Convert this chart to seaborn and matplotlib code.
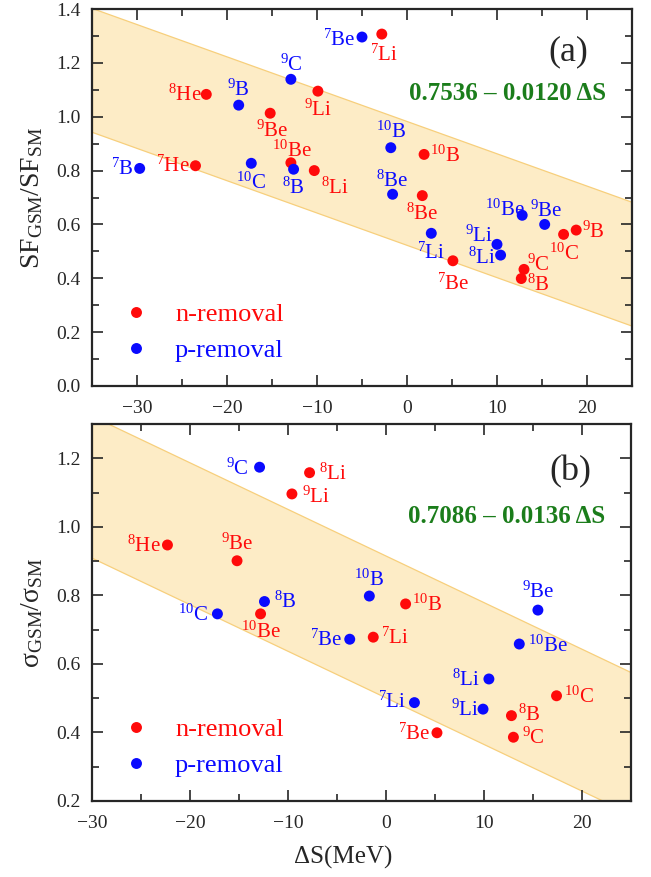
import matplotlib
matplotlib.use("Agg")
import matplotlib.pyplot as plt
import seaborn as sns
import numpy as np
import pandas as pd

# panel (a): SF_GSM / SF_SM
sf_n_names = ["7Li", "8He", "9Li", "9Be", "10Be", "7He", "8Li", "10B", "8Be", "7Be", "10C", "9B", "9C", "8B"]
sf_n_x = [-2.8, -22.3, -9.9, -15.2, -12.9, -23.5, -10.3, 1.9, 1.7, 5.1, 17.4, 18.8, 13.0, 12.7]
sf_n_y = [1.307, 1.083, 1.095, 1.013, 0.829, 0.818, 0.800, 0.860, 0.707, 0.465, 0.563, 0.579, 0.433, 0.399]

sf_p_names = ["7Be", "9C", "9B", "7B", "10C", "8B", "10B", "8Be", "7Li", "10Be", "9Be", "9Li", "8Li"]
sf_p_x = [-5.0, -12.9, -18.7, -29.7, -17.3, -12.6, -1.8, -1.6, 2.7, 12.8, 15.3, 10.0, 10.4]
sf_p_y = [1.296, 1.139, 1.043, 0.808, 0.827, 0.805, 0.885, 0.712, 0.567, 0.634, 0.600, 0.526, 0.486]

# panel (b): sigma_GSM / sigma_SM
cs_n_names = ["8Li", "9Li", "8He", "9Be", "10Be", "10B", "7Li", "7Be", "10C", "8B", "9C"]
cs_n_x = [-7.8, -9.6, -22.3, -15.2, -12.8, 2.0, -1.3, 5.2, 17.4, 12.8, 13.0]
cs_n_y = [1.158, 1.096, 0.947, 0.901, 0.746, 0.775, 0.678, 0.399, 0.507, 0.449, 0.386]

cs_p_names = ["9C", "8B", "10C", "7Be", "10B", "9Be", "10Be", "8Li", "7Li", "9Li"]
cs_p_x = [-12.9, -12.4, -17.2, -3.7, -1.7, 15.5, 13.6, 10.5, 2.9, 9.9]
cs_p_y = [1.174, 0.782, 0.746, 0.672, 0.798, 0.757, 0.658, 0.556, 0.487, 0.468]

# linear fits (intercept, slope) and band half widths
fit_a = (0.7536, -0.0120)
fit_b = (0.7086, -0.0136)
band_a = 0.23
band_b = 0.207

RED = "#ff0a0a"
BLUE = "#0a0aff"
GREEN = "#1b7d1b"

# label offsets in pixels (dx right, dy down)
off_a_n = {"7Li": (2, 21), "8He": (-21, 1), "9Li": (0, 19), "9Be": (2, 18), "10Be": (1, -12),
           "7He": (-23, 0), "8Li": (21, 18), "10B": (21, 2), "8Be": (0, 19), "7Be": (0, 23),
           "10C": (0, 20), "9B": (17, 2), "9C": (14, -4), "8B": (17, 7)}
off_a_p = {"7Be": (-23, 3), "9C": (0, -14), "9B": (0, -15), "7B": (-17, 1), "10C": (0, 20),
           "8B": (0, 19), "10B": (0, -15), "8Be": (0, -13), "7Li": (0, 20), "10Be": (-17, -5),
           "9Be": (2, -13), "9Li": (-18, -8), "8Li": (-19, 3)}
off_b_n = {"8Li": (24, 2), "9Li": (24, 3), "8He": (-24, 1), "9Be": (0, -17), "10Be": (0, 18),
           "10B": (21, 1), "7Li": (22, 1), "7Be": (-23, 1), "10C": (22, 1), "8B": (18, 0), "9C": (20, 1)}
off_b_p = {"9C": (-22, 2), "8B": (21, 1), "10C": (-24, 1), "7Be": (-23, 1), "10B": (0, -16),
           "9Be": (0, -18), "10Be": (29, 2), "8Li": (-23, 1), "7Li": (-22, 0), "9Li": (-18, 1)}


def iso(name):
    num = "".join(c for c in name if c.isdigit())
    sym = "".join(c for c in name if not c.isdigit())
    return r"$^{\mathrm{" + num + "}}$" + sym


def make_frame(n_names, n_x, n_y, p_names, p_x, p_y):
    df_n = pd.DataFrame({"name": n_names, "x": n_x, "y": n_y, "kind": "n-removal"})
    df_p = pd.DataFrame({"name": p_names, "x": p_x, "y": p_y, "kind": "p-removal"})
    return pd.concat([df_n, df_p], ignore_index=True)


def draw_panel(ax, df, fit, half, xlim, ylim, offs, eq_text, eq_y, tag, tag_xy):
    xs = np.linspace(xlim[0], xlim[1], 50)
    center = fit[0] + fit[1] * xs
    ax.fill_between(xs, center - half, center + half, facecolor="#fdecc6",
                    edgecolor="#f7cf7c", linewidth=0.9, zorder=0)

    sns.scatterplot(data=df, x="x", y="y", hue="kind",
                    palette={"n-removal": RED, "p-removal": BLUE},
                    s=62, edgecolor="none", ax=ax, zorder=3)

    for _, r in df.iterrows():
        dx, dy = offs[r["kind"]][r["name"]]
        color = RED if r["kind"] == "n-removal" else BLUE
        ax.annotate(iso(r["name"]), (r["x"], r["y"]),
                    xytext=(dx * 0.72, -dy * 0.72), textcoords="offset points",
                    ha="center", va="center", fontsize=15, color=color, zorder=4)

    ax.set_xlim(*xlim)
    ax.set_ylim(*ylim)
    ax.text(tag_xy[0], tag_xy[1], tag, transform=ax.transAxes, ha="center", va="center", fontsize=26)
    ax.text(0.952, eq_y, eq_text, transform=ax.transAxes, ha="right", va="center",
            fontsize=18, fontweight="bold", color=GREEN)

    leg = ax.legend(loc="lower left", bbox_to_anchor=(0.013, 0.0), frameon=False,
                    fontsize=19, handletextpad=0.98, labelspacing=0.47, markerscale=1.0,
                    handlelength=1.0)
    for t, c in zip(leg.get_texts(), [RED, BLUE]):
        t.set_color(c)

    for sp in ax.spines.values():
        sp.set_linewidth(1.6)
    ax.tick_params(which="both", direction="in", top=True, right=True, labelsize=14, width=1.2)
    ax.tick_params(which="major", length=8)
    ax.tick_params(which="minor", length=5)
    ax.tick_params(axis="x", which="major", pad=10)
    ax.tick_params(axis="y", which="major", pad=8)


def main():
    sns.set_style("ticks")
    plt.rcParams["font.family"] = ["Liberation Serif", "DejaVu Serif"]
    plt.rcParams["mathtext.fontset"] = "custom"
    plt.rcParams["mathtext.rm"] = "Liberation Serif"
    plt.rcParams["mathtext.it"] = "Liberation Serif:italic"

    fig = plt.figure(figsize=(6.51, 8.77), dpi=100)
    ax1 = fig.add_axes([0.1413, 0.5599, 0.8295, 0.4298])
    ax2 = fig.add_axes([0.1413, 0.0867, 0.8280, 0.4298])

    df_a = make_frame(sf_n_names, sf_n_x, sf_n_y, sf_p_names, sf_p_x, sf_p_y)
    draw_panel(ax1, df_a, fit_a, band_a, (-35, 25), (0.0, 1.4),
               {"n-removal": off_a_n, "p-removal": off_a_p},
               "0.7536 \u2013 0.0120 \u0394S", 0.776, "(a)", (0.883, 0.886))
    ax1.set_xticks([-30, -20, -10, 0, 10, 20])
    ax1.set_xticks(np.arange(-35, 26, 5), minor=True)
    ax1.set_yticks(np.arange(0, 1.41, 0.2))
    ax1.set_yticks(np.arange(0, 1.41, 0.1), minor=True)
    ax1.set_yticklabels([f"{v:.1f}" for v in np.arange(0, 1.41, 0.2)])
    ax1.set_xlabel("")
    ax1.set_ylabel(r"SF$_{\rm GSM}$/SF$_{\rm SM}$", fontsize=20, labelpad=8)

    df_b = make_frame(cs_n_names, cs_n_x, cs_n_y, cs_p_names, cs_p_x, cs_p_y)
    draw_panel(ax2, df_b, fit_b, band_b, (-30, 25), (0.2, 1.3),
               {"n-removal": off_b_n, "p-removal": off_b_p},
               "0.7086 \u2013 0.0136 \u0394S", 0.754, "(b)", (0.887, 0.873))
    ax2.set_xticks([-30, -20, -10, 0, 10, 20])
    ax2.set_xticks(np.arange(-30, 26, 5), minor=True)
    ax2.set_yticks(np.arange(0.2, 1.21, 0.2))
    ax2.set_yticks(np.arange(0.2, 1.31, 0.1), minor=True)
    ax2.set_yticklabels([f"{v:.1f}" for v in np.arange(0.2, 1.21, 0.2)])
    ax2.set_xlabel("\u0394S(MeV)", fontsize=18)
    ax2.xaxis.set_label_coords(0.466, -0.118)
    ax2.set_ylabel("\u03c3$_{\\rm GSM}$/\u03c3$_{\\rm SM}$", fontsize=20, labelpad=8)

    fig.savefig("out.png", dpi=100)
    plt.close(fig)


if __name__ == "__main__":
    main()
